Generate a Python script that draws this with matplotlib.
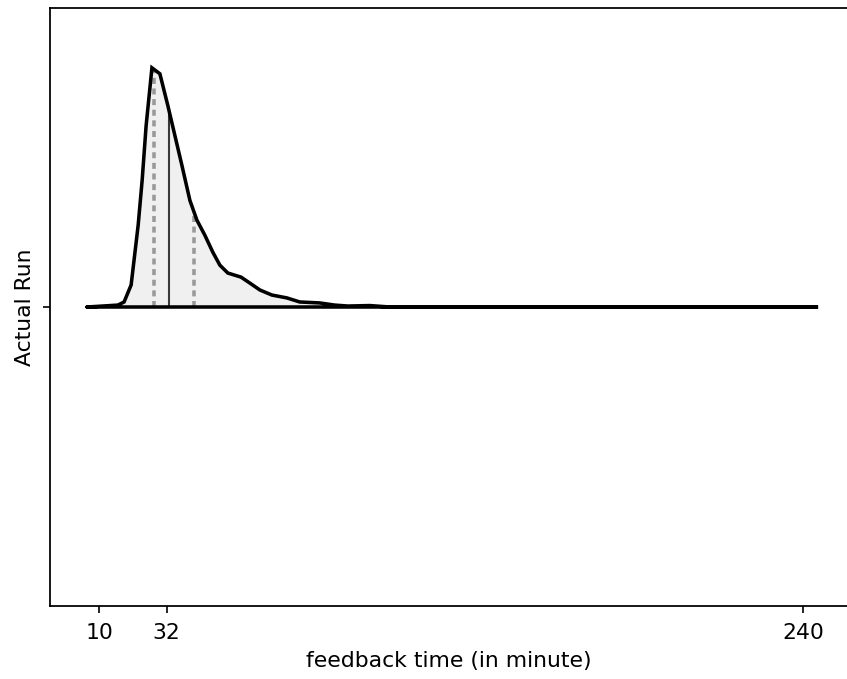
import numpy as np
import matplotlib
matplotlib.use("Agg")
import matplotlib.pyplot as plt

# Half-violin of feedback times for the "Actual Run" group
category = "Actual Run"
feedback_minutes = [6.0, 16.1, 18.1, 20.4, 22.7, 24.0, 25.3, 27.2, 29.8, 32.4,
                    34.7, 37.0, 39.6, 41.9, 44.5, 47.1, 49.4, 52.0, 56.3, 59.2,
                    62.5, 66.4, 71.3, 75.5, 82.0, 86.9, 91.2, 98.4, 104.9, 244.9]
relative_density = [0.0, 0.008, 0.021, 0.092, 0.342, 0.529, 0.758, 1.0, 0.975, 0.842,
                    0.717, 0.592, 0.446, 0.363, 0.300, 0.229, 0.175, 0.142, 0.125, 0.100,
                    0.071, 0.050, 0.038, 0.021, 0.017, 0.008, 0.004, 0.006, 0.0, 0.0]
q1, median, q3 = 27.9, 32.8, 40.9
tick_values = [10, 32, 240]

half_width = 0.4
x = np.array(feedback_minutes)
h = np.array(relative_density) * half_width

dpi = 150
fig = plt.figure(figsize=(847 / dpi, 679 / dpi), dpi=dpi)
ax = fig.add_axes([50 / 847, 73 / 679, 798 / 847, 598 / 679])

# body of the violin (upper half only, y axis inverted)
ax.fill_between(x, 0, -h, color="#f0f0f0", linewidth=0, zorder=1)
ax.plot(np.r_[x, x[::-1]], np.r_[-h, np.zeros_like(h)], color="black",
        linewidth=1.7, solid_joinstyle="miter", solid_capstyle="round", zorder=3)

# quartile and median lines
for val, style, col, lw in [(q1, (0, (1.7, 1.3)), "#999999", 1.7),
                            (q3, (0, (1.7, 1.3)), "#999999", 1.7),
                            (median, "-", "#3a3a3a", 1.0)]:
    top = np.interp(val, x, h)
    ax.plot([val, val], [0, -top], color=col, linestyle=style, linewidth=lw, zorder=2)

ax.set_ylim(0.5, -0.5)
ax.set_xlim(10 - 49.3 / 3.06, 10 + 748.7 / 3.06)
ax.set_yticks([0])
ax.set_yticklabels([category], rotation=90, va="center", fontsize=10.5)
ax.set_xticks(tick_values)
ax.set_xticklabels([str(t) for t in tick_values], fontsize=10.5)
ax.tick_params(axis="x", pad=4.5)
ax.set_xlabel("feedback time (in minute)", fontsize=10.5)
for s in ax.spines.values():
    s.set_linewidth(0.85)

fig.savefig("out.png", dpi=dpi)
